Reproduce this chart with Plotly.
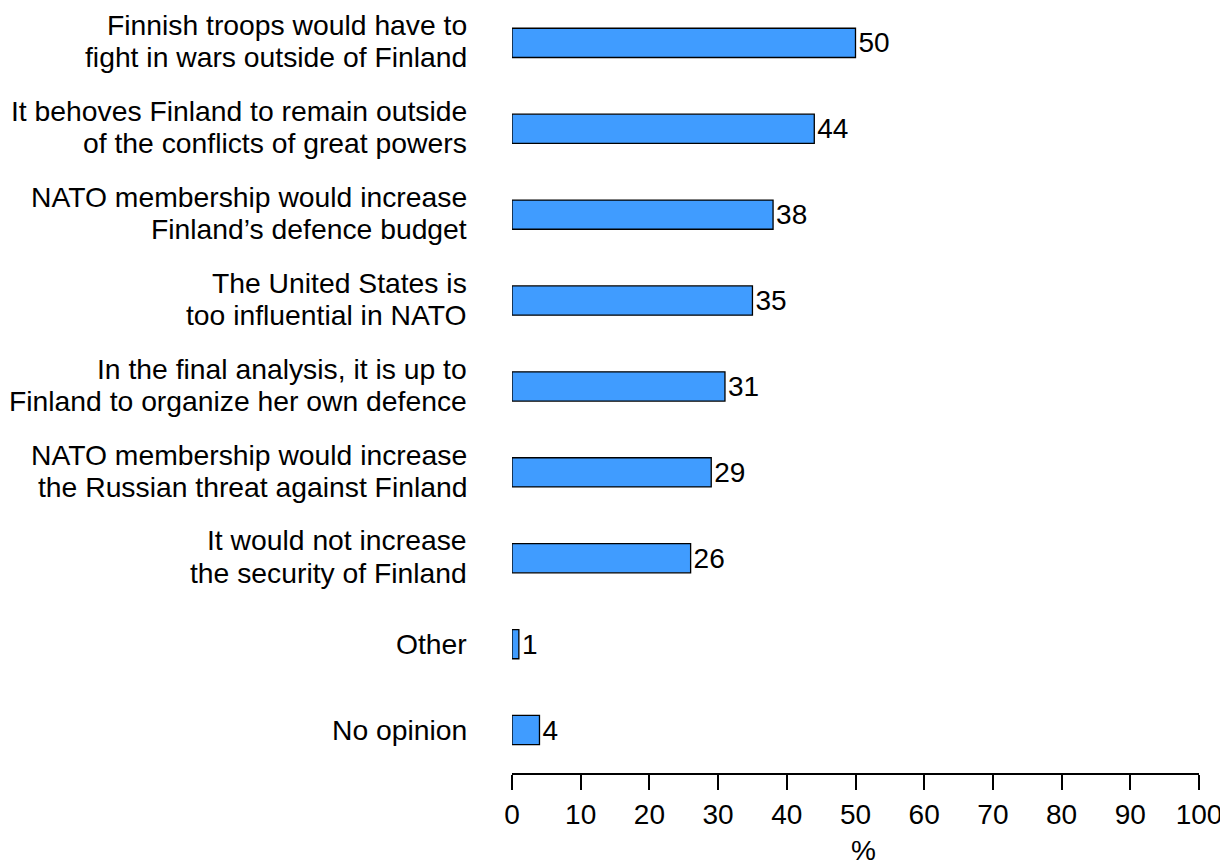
import plotly.graph_objects as go

categories = [
    "Finnish troops would have to<br>fight in wars outside of Finland",
    "It behoves Finland to remain outside<br>of the conflicts of great powers",
    "NATO membership would increase<br>Finland\u2019s defence budget",
    "The United States is<br>too influential in NATO",
    "In the final analysis, it is up to<br>Finland to organize her own defence",
    "NATO membership would increase<br>the Russian threat against Finland",
    "It would not increase<br>the security of Finland",
    "Other",
    "No opinion",
]
values = [50, 44, 38, 35, 31, 29, 26, 1, 4]
x_ticks = [0, 10, 20, 30, 40, 50, 60, 70, 80, 90, 100]

FONT = "Arial, Liberation Sans, sans-serif"
cats_plot = categories[::-1]
vals_plot = values[::-1]

fig = go.Figure(go.Bar(
    x=vals_plot,
    y=list(range(len(cats_plot))),
    orientation="h",
    marker=dict(color="rgb(64,156,255)", line=dict(color="black", width=1.3)),
    text=[str(v) for v in vals_plot],
    textposition="outside",
    constraintext="none",
    textfont=dict(family=FONT, size=28, color="black"),
    cliponaxis=False,
    width=0.34,
))

annotations = []
for i, lab in enumerate(cats_plot):
    lines = lab.split("<br>")
    if len(lines) == 1:
        shifts = [0]
    else:
        shifts = [17.8, -14.5]
    for ln, sh in zip(lines, shifts):
        annotations.append(dict(
            x=0, xref="paper", xanchor="right", xshift=-43,
            y=i, yref="y", yanchor="middle", yshift=sh,
            text=ln, showarrow=False,
            font=dict(family=FONT, size=28.3, color="black"),
        ))
annotations.append(dict(
    x=0.5, xref="paper", xanchor="center", xshift=8,
    y=0, yref="paper", yanchor="top", yshift=-60,
    text="%", showarrow=False,
    font=dict(family=FONT, size=28, color="black"),
))

fig.update_layout(
    width=1220, height=852,
    margin=dict(l=504, r=29, t=0, b=87),
    plot_bgcolor="white", paper_bgcolor="white",
    showlegend=False,
    annotations=annotations,
    xaxis=dict(
        range=[0, 100], tickvals=x_ticks, ticktext=[str(t) for t in x_ticks],
        showgrid=False, zeroline=False,
        showline=True, linecolor="black", linewidth=2,
        ticks="outside", ticklen=15, tickwidth=1.5, tickcolor="black",
        tickfont=dict(family=FONT, size=28, color="black"),
    ),
    yaxis=dict(
        range=[-0.5, 8.406],
        showticklabels=False, showgrid=False, zeroline=False,
        showline=False, ticks="",
    ),
)

fig.write_html("out.html")
